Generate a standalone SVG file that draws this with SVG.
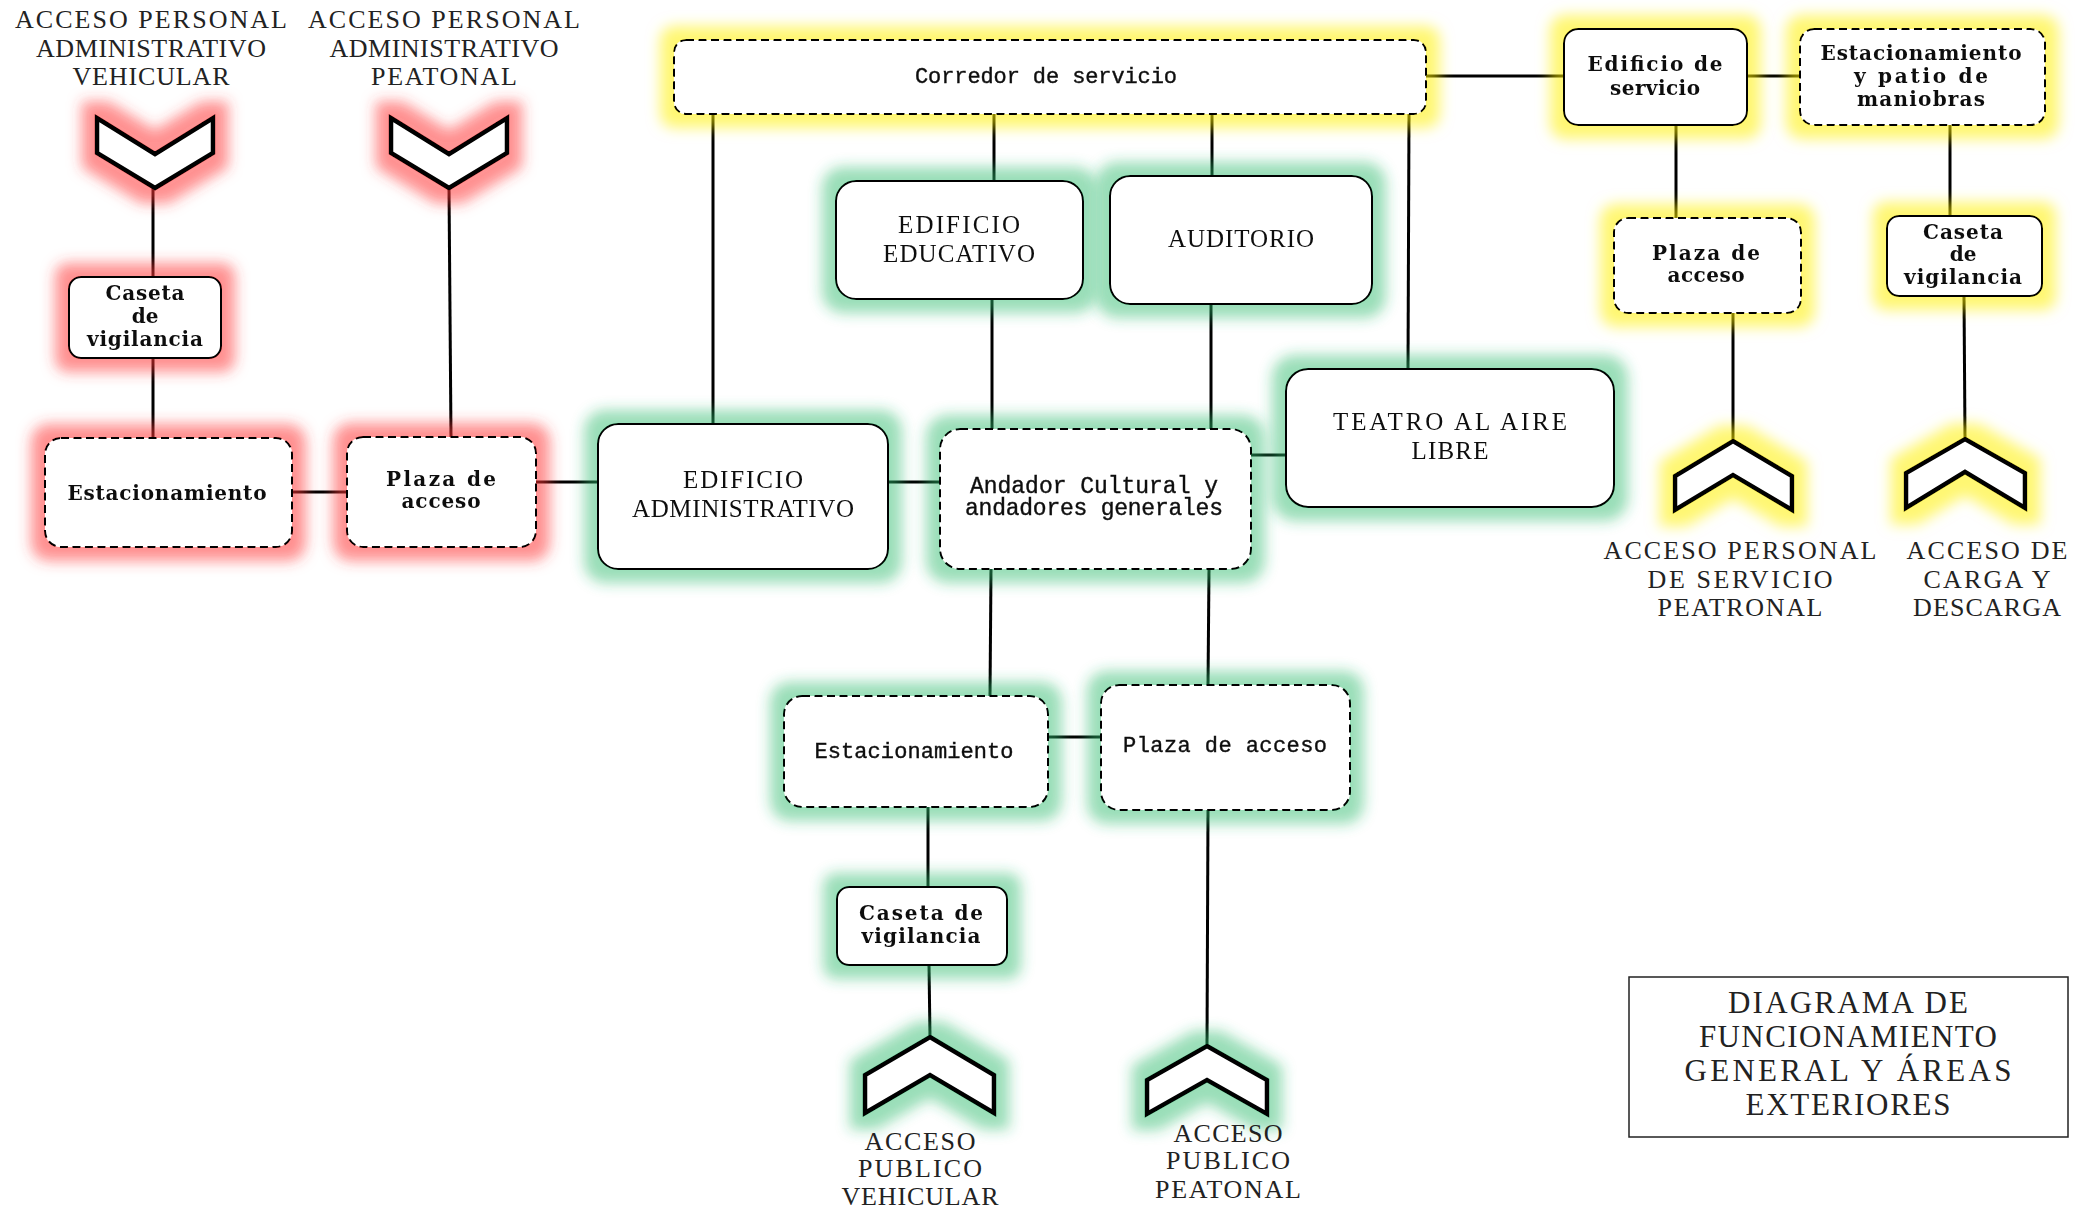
<svg xmlns="http://www.w3.org/2000/svg" width="2094" height="1212" viewBox="0 0 2094 1212">
<defs>
<style>
.box{fill:#fff;stroke:#000;stroke-width:2}
.dash{stroke-dasharray:8 4.5}
.chev{fill:#fff;stroke:#000;stroke-width:4.5;stroke-linejoin:miter}
.conn line{stroke:#000;stroke-width:3;stroke-linecap:butt}
text{font-family:"Liberation Serif","Times New Roman",serif;fill:#111;text-anchor:middle}
.lb{font-family:"DejaVu Serif","Liberation Serif",serif;font-size:20px;font-weight:bold}
.mono{font-family:"Liberation Mono","Courier New",monospace;font-size:22px;stroke:#111;stroke-width:0.4}
.up{font-size:25px}
.ext{font-size:26px;fill:#222}
.title{font-size:31px;fill:#222}
</style>
<filter id="gR" x="-50%" y="-50%" width="200%" height="200%">
<feMorphology in="SourceAlpha" operator="dilate" radius="13" result="d"/>
<feGaussianBlur in="d" stdDeviation="7" result="b"/>
<feFlood flood-color="#ff3838" flood-opacity="0.55"/>
<feComposite in2="b" operator="in" result="g"/>
<feMerge><feMergeNode in="g"/><feMergeNode in="SourceGraphic"/></feMerge>
</filter>
<filter id="gG" x="-50%" y="-50%" width="200%" height="200%">
<feMorphology in="SourceAlpha" operator="dilate" radius="13" result="d"/>
<feGaussianBlur in="d" stdDeviation="7" result="b"/>
<feFlood flood-color="#2cba6c" flood-opacity="0.48"/>
<feComposite in2="b" operator="in" result="g"/>
<feMerge><feMergeNode in="g"/><feMergeNode in="SourceGraphic"/></feMerge>
</filter>
<filter id="gY" x="-50%" y="-50%" width="200%" height="200%">
<feMorphology in="SourceAlpha" operator="dilate" radius="13" result="d"/>
<feGaussianBlur in="d" stdDeviation="7" result="b"/>
<feFlood flood-color="#fff000" flood-opacity="0.55"/>
<feComposite in2="b" operator="in" result="g"/>
<feMerge><feMergeNode in="g"/><feMergeNode in="SourceGraphic"/></feMerge>
</filter>
</defs>
<rect width="2094" height="1212" fill="#fff"/>

<g id="connectors" class="conn">
<line x1="153" y1="188" x2="153" y2="277"/>
<line x1="153" y1="358" x2="153" y2="438"/>
<line x1="449" y1="188" x2="451" y2="437"/>
<line x1="292" y1="492" x2="347" y2="492"/>
<line x1="536" y1="482" x2="598" y2="482"/>
<line x1="888" y1="482" x2="940" y2="482"/>
<line x1="713" y1="114" x2="713" y2="424"/>
<line x1="994" y1="114" x2="994" y2="181"/>
<line x1="1212" y1="114" x2="1212" y2="176"/>
<line x1="1409" y1="114" x2="1408" y2="369"/>
<line x1="992" y1="299" x2="992" y2="429"/>
<line x1="1211" y1="304" x2="1211" y2="429"/>
<line x1="1251" y1="455" x2="1286" y2="455"/>
<line x1="991" y1="569" x2="990" y2="696"/>
<line x1="1209" y1="569" x2="1208" y2="685"/>
<line x1="1048" y1="737" x2="1101" y2="737"/>
<line x1="928" y1="807" x2="928" y2="887"/>
<line x1="929" y1="965" x2="930" y2="1037"/>
<line x1="1208" y1="810" x2="1207" y2="1046"/>
<line x1="1426" y1="76" x2="1564" y2="76"/>
<line x1="1747" y1="76" x2="1800" y2="76"/>
<line x1="1676" y1="125" x2="1676" y2="218"/>
<line x1="1733" y1="313" x2="1733" y2="441"/>
<line x1="1950" y1="125" x2="1950" y2="216"/>
<line x1="1964" y1="296" x2="1965" y2="439"/>
</g>

<!-- Red group -->
<g id="acceso-adm-vehicular" filter="url(#gR)">
<polygon class="chev" points="97,118 155,154 213,118 213,153 155,188 97,153"/>
</g>
<text class="ext" x="151" y="28" textLength="272" lengthAdjust="spacing">ACCESO PERSONAL</text>
<text class="ext" x="151" y="57" textLength="230" lengthAdjust="spacing">ADMINISTRATIVO</text>
<text class="ext" x="151" y="85" textLength="157" lengthAdjust="spacing">VEHICULAR</text>

<g id="acceso-adm-peatonal" filter="url(#gR)">
<polygon class="chev" points="391,118 449,154 507,118 507,153 449,188 391,153"/>
</g>
<text class="ext" x="444" y="28" textLength="272" lengthAdjust="spacing">ACCESO PERSONAL</text>
<text class="ext" x="444" y="57" textLength="229" lengthAdjust="spacing">ADMINISTRATIVO</text>
<text class="ext" x="444" y="85" textLength="146" lengthAdjust="spacing">PEATONAL</text>

<g id="caseta-adm" filter="url(#gR)">
<rect class="box" x="69" y="277" width="152" height="81" rx="12"/>
<text class="lb" x="145" y="300" textLength="79" lengthAdjust="spacing">Caseta</text>
<text class="lb" x="145" y="323">de</text>
<text class="lb" x="145" y="346" textLength="116" lengthAdjust="spacing">vigilancia</text>
</g>

<g id="estacionamiento-adm" filter="url(#gR)">
<rect class="box dash" x="45" y="438" width="247" height="109" rx="16"/>
<text class="lb" x="167" y="500" textLength="199" lengthAdjust="spacing">Estacionamiento</text>
</g>

<g id="plaza-adm" filter="url(#gR)">
<rect class="box dash" x="347" y="437" width="189" height="110" rx="16"/>
<text class="lb" x="441" y="486" textLength="110" lengthAdjust="spacing">Plaza de</text>
<text class="lb" x="441" y="508" textLength="79" lengthAdjust="spacing">acceso</text>
</g>

<!-- Green group -->
<g id="edificio-administrativo" filter="url(#gG)">
<rect class="box" x="598" y="424" width="290" height="145" rx="20"/>
<text class="up" x="743" y="488" textLength="120" lengthAdjust="spacing">EDIFICIO</text>
<text class="up" x="743" y="517" textLength="222" lengthAdjust="spacing">ADMINISTRATIVO</text>
</g>

<g id="edificio-educativo" filter="url(#gG)">
<rect class="box" x="836" y="181" width="247" height="118" rx="20"/>
<text class="up" x="959" y="233" textLength="122" lengthAdjust="spacing">EDIFICIO</text>
<text class="up" x="959" y="262" textLength="152" lengthAdjust="spacing">EDUCATIVO</text>
</g>

<g id="auditorio" filter="url(#gG)">
<rect class="box" x="1110" y="176" width="262" height="128" rx="20"/>
<text class="up" x="1241" y="247" textLength="146" lengthAdjust="spacing">AUDITORIO</text>
</g>

<g id="teatro" filter="url(#gG)">
<rect class="box" x="1286" y="369" width="328" height="138" rx="22"/>
<text class="up" x="1450" y="430" textLength="234" lengthAdjust="spacing">TEATRO AL AIRE</text>
<text class="up" x="1450" y="459" textLength="77" lengthAdjust="spacing">LIBRE</text>
</g>

<g id="andador" filter="url(#gG)">
<rect class="box dash" x="940" y="429" width="311" height="140" rx="20"/>
<text class="mono" x="1094" y="493" style="font-size:23px" textLength="248" lengthAdjust="spacing">Andador Cultural y</text>
<text class="mono" x="1094" y="515" style="font-size:23px" textLength="258" lengthAdjust="spacing">andadores generales</text>
</g>

<g id="estacionamiento-publico" filter="url(#gG)">
<rect class="box dash" x="784" y="696" width="264" height="111" rx="18"/>
<text class="mono" x="914" y="758" textLength="199" lengthAdjust="spacing">Estacionamiento</text>
</g>

<g id="plaza-publica" filter="url(#gG)">
<rect class="box dash" x="1101" y="685" width="249" height="125" rx="18"/>
<text class="mono" x="1225" y="752" textLength="204" lengthAdjust="spacing">Plaza de acceso</text>
</g>

<g id="caseta-publica" filter="url(#gG)">
<rect class="box" x="837" y="887" width="170" height="78" rx="12"/>
<text class="lb" x="921" y="920" textLength="124" lengthAdjust="spacing">Caseta de</text>
<text class="lb" x="921" y="943" textLength="119" lengthAdjust="spacing">vigilancia</text>
</g>

<g id="acceso-publico-vehicular" filter="url(#gG)">
<polygon class="chev" points="930,1037 994,1075 994,1113 930,1075 865,1113 865,1075"/>
</g>
<text class="ext" x="920" y="1150" textLength="111" lengthAdjust="spacing">ACCESO</text>
<text class="ext" x="920" y="1177" textLength="124" lengthAdjust="spacing">PUBLICO</text>
<text class="ext" x="920" y="1205" textLength="157" lengthAdjust="spacing">VEHICULAR</text>

<g id="acceso-publico-peatonal" filter="url(#gG)">
<polygon class="chev" points="1207,1046 1267,1080 1267,1114 1207,1080 1147,1114 1147,1080"/>
</g>
<text class="ext" x="1228" y="1142" textLength="109" lengthAdjust="spacing">ACCESO</text>
<text class="ext" x="1228" y="1169" textLength="124" lengthAdjust="spacing">PUBLICO</text>
<text class="ext" x="1228" y="1198" textLength="146" lengthAdjust="spacing">PEATONAL</text>

<!-- Yellow group -->
<g id="corredor" filter="url(#gY)">
<rect class="box dash" x="674" y="40" width="752" height="74" rx="12"/>
<text class="mono" x="1046" y="83" textLength="262" lengthAdjust="spacing">Corredor de servicio</text>
</g>

<g id="edificio-servicio" filter="url(#gY)">
<rect class="box" x="1564" y="29" width="183" height="96" rx="14"/>
<text class="lb" x="1655" y="71" textLength="135" lengthAdjust="spacing">Edificio de</text>
<text class="lb" x="1655" y="95" textLength="90" lengthAdjust="spacing">servicio</text>
</g>

<g id="estacionamiento-servicio" filter="url(#gY)">
<rect class="box dash" x="1800" y="29" width="245" height="96" rx="14"/>
<text class="lb" x="1921" y="60" textLength="201" lengthAdjust="spacing">Estacionamiento</text>
<text class="lb" x="1921" y="83" textLength="134" lengthAdjust="spacing">y patio de</text>
<text class="lb" x="1921" y="106" textLength="128" lengthAdjust="spacing">maniobras</text>
</g>

<g id="plaza-servicio" filter="url(#gY)">
<rect class="box dash" x="1614" y="218" width="187" height="95" rx="14"/>
<text class="lb" x="1706" y="260" textLength="108" lengthAdjust="spacing">Plaza de</text>
<text class="lb" x="1706" y="282" textLength="77" lengthAdjust="spacing">acceso</text>
</g>

<g id="caseta-servicio" filter="url(#gY)">
<rect class="box" x="1887" y="216" width="155" height="80" rx="12"/>
<text class="lb" x="1963" y="239" textLength="80" lengthAdjust="spacing">Caseta</text>
<text class="lb" x="1963" y="261">de</text>
<text class="lb" x="1963" y="284" textLength="118" lengthAdjust="spacing">vigilancia</text>
</g>

<g id="acceso-personal-servicio" filter="url(#gY)">
<polygon class="chev" points="1733,441 1792,476 1792,510 1733,475 1675,510 1675,476"/>
</g>
<text class="ext" x="1740" y="559" textLength="273" lengthAdjust="spacing">ACCESO PERSONAL</text>
<text class="ext" x="1740" y="588" textLength="185" lengthAdjust="spacing">DE SERVICIO</text>
<text class="ext" x="1740" y="616" textLength="165" lengthAdjust="spacing">PEATRONAL</text>

<g id="acceso-carga" filter="url(#gY)">
<polygon class="chev" points="1965,439 2025,473 2025,508 1965,472 1906,508 1906,473"/>
</g>
<text class="ext" x="1987" y="559" textLength="161" lengthAdjust="spacing">ACCESO DE</text>
<text class="ext" x="1987" y="588" textLength="127" lengthAdjust="spacing">CARGA Y</text>
<text class="ext" x="1987" y="616" textLength="148" lengthAdjust="spacing">DESCARGA</text>

<!-- Title -->
<g id="titulo">
<rect x="1629" y="977" width="439" height="160" fill="#fff" stroke="#222" stroke-width="1.5"/>
<text class="title" x="1848" y="1013" textLength="240" lengthAdjust="spacing">DIAGRAMA DE</text>
<text class="title" x="1848" y="1047" textLength="298" lengthAdjust="spacing">FUNCIONAMIENTO</text>
<text class="title" x="1848" y="1081" textLength="327" lengthAdjust="spacing">GENERAL Y ÁREAS</text>
<text class="title" x="1848" y="1115" textLength="205" lengthAdjust="spacing">EXTERIORES</text>
</g>
</svg>
